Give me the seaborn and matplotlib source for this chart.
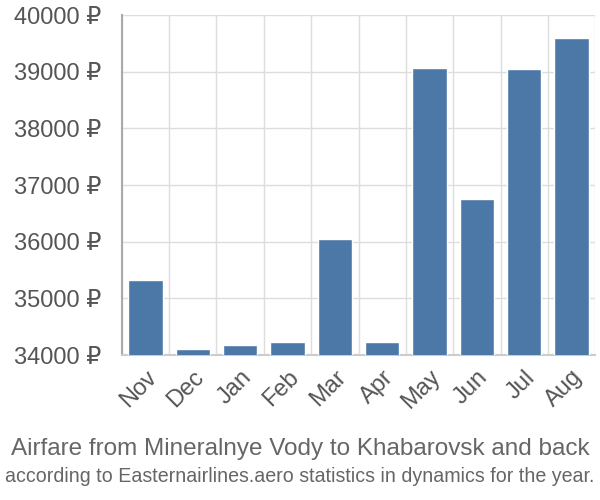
import matplotlib
matplotlib.use("Agg")
import matplotlib.pyplot as plt
import seaborn as sns
import pandas as pd
from matplotlib.ticker import FixedLocator

months = ["Nov", "Dec", "Jan", "Feb", "Mar", "Apr", "May", "Jun", "Jul", "Aug"]
prices = [35320, 34100, 34170, 34230, 36040, 34230, 39070, 36750, 39040, 39600]
yticks = [34000, 35000, 36000, 37000, 38000, 39000, 40000]
title_line1 = "Airfare from Mineralnye Vody to Khabarovsk and back"
title_line2 = "according to Easternairlines.aero statistics in dynamics for the year."

sns.set_theme(style="white")
plt.rcParams["font.family"] = ["Liberation Sans", "DejaVu Sans"]

df = pd.DataFrame({"month": months, "price": prices})

fig = plt.figure(figsize=(6, 5), dpi=100)
ax = fig.add_axes([0.203, 0.29, 0.789, 0.68])

sns.barplot(data=df, x="month", y="price", color="#4c78a8", width=0.72,
            saturation=1, ax=ax, zorder=3)

ax.set_ylim(34000, 40000)
ax.set_xlim(-0.5, len(months) - 0.5)
ax.set_yticks(yticks)
ax.set_yticklabels([f"{v} \u20bd" for v in yticks], fontsize=17, color="#555555")
ax.set_xticks(range(len(months)))
ax.set_xticklabels(months, rotation=45, ha="right", rotation_mode="anchor",
                   fontsize=17, color="#555555")
ax.xaxis.set_minor_locator(FixedLocator([i + 0.5 for i in range(-1, len(months))]))
ax.tick_params(axis="x", which="major", length=0, pad=8)
ax.tick_params(axis="x", which="minor", length=11, color="#dddddd", width=1)
ax.tick_params(axis="y", which="major", length=14, color="#dddddd", width=1, pad=1)
ax.grid(axis="x", which="minor", color="#dddddd", linewidth=1, zorder=0)
ax.grid(axis="y", which="major", color="#dddddd", linewidth=1, zorder=0)
ax.set_axisbelow(True)

for s in ["top", "right"]:
    ax.spines[s].set_visible(False)
ax.spines["left"].set_color("#aaaaaa")
ax.spines["left"].set_linewidth(1.5)
ax.spines["bottom"].set_color("#cccccc")
ax.spines["bottom"].set_linewidth(1.5)
ax.set_xlabel("")
ax.set_ylabel("")

fig.text(0.5, 0.09, title_line1, ha="center", fontsize=17.5, color="#666666")
fig.text(0.5, 0.035, title_line2, ha="center", fontsize=14.1, color="#666666")

fig.savefig("out.png", dpi=100)
